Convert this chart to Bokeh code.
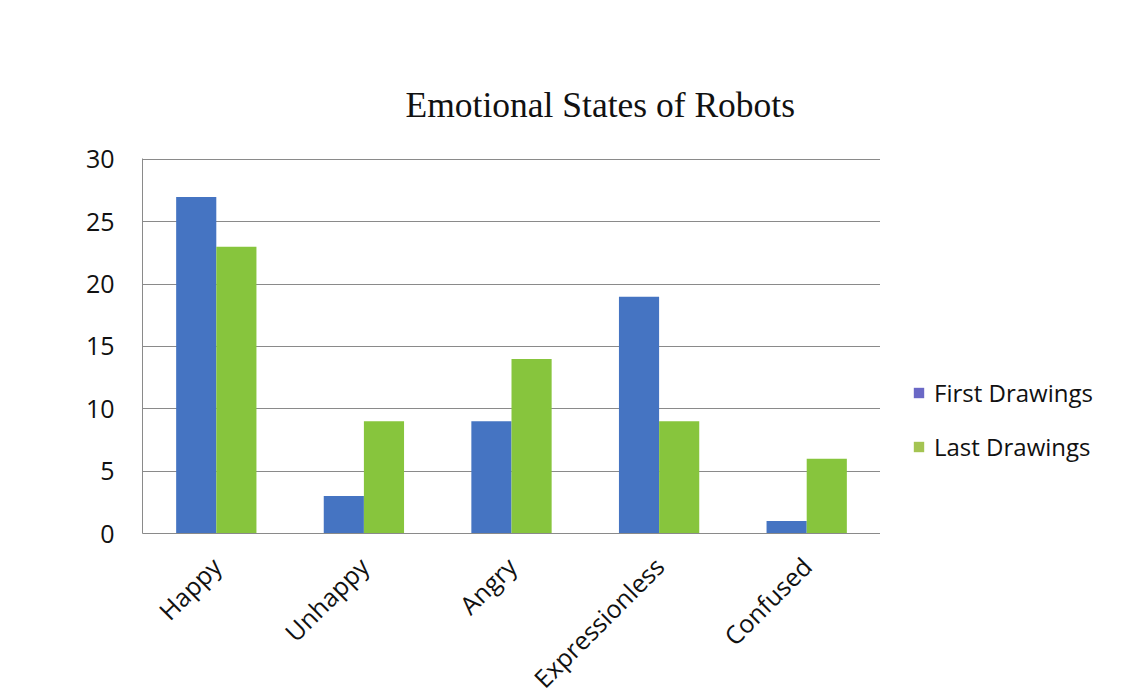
import math
from bokeh.plotting import figure
from bokeh.layouts import row
from bokeh.models import FactorRange, Range1d, Legend, LegendItem, ColumnDataSource
from bokeh.transform import dodge
from bokeh.embed import file_html
from bokeh.resources import INLINE

categories = ["Happy", "Unhappy", "Angry", "Expressionless", "Confused"]
first_drawings = [27, 3, 9, 19, 1]
last_drawings = [23, 9, 14, 9, 6]
y_ticks = [0, 5, 10, 15, 20, 25, 30]
title_text = "Emotional States of Robots"
series_names = ["First Drawings", "Last Drawings"]

BLUE = "#4574c2"
GREEN = "#87c53d"
LEG_BLUE = "#6a68c6"
LEG_GREEN = "#a4c452"
GRID = "#8a8a8a"
TEXT = "#111111"

src = ColumnDataSource(dict(cat=categories, first=first_drawings, last=last_drawings))

p = figure(
    x_range=FactorRange(*categories, range_padding=0),
    y_range=Range1d(0, 30.08),
    frame_width=738, frame_height=375,
    output_backend="svg", toolbar_location=None,
    min_border_left=142, min_border_right=0,
    min_border_top=158, min_border_bottom=130,
)
p.background_fill_color = "white"
p.border_fill_color = "white"
p.outline_line_color = None

p.vbar(x=dodge("cat", -0.136, range=p.x_range), top="first", width=0.272,
       source=src, fill_color=BLUE, line_color=None)
p.vbar(x=dodge("cat", 0.136, range=p.x_range), top="last", width=0.272,
       source=src, fill_color=GREEN, line_color=None)

# title
p.title.text = title_text
p.title.align = "left"
p.title.offset = 263
p.title.standoff = 67
p.title.text_font = "Liberation Serif"
p.title.text_font_size = "35.5px"
p.title.text_font_style = "normal"
p.title.text_color = TEXT

# axes
p.yaxis.ticker = y_ticks
p.yaxis.major_tick_line_color = None
p.yaxis.minor_tick_line_color = None
p.yaxis.axis_line_color = GRID
p.yaxis.major_label_text_font = "Open Sans"
p.yaxis.major_label_text_font_size = "25px"
p.yaxis.major_label_text_color = TEXT
p.yaxis.major_label_standoff = 22

p.xaxis.major_tick_line_color = None
p.xaxis.minor_tick_line_color = None
p.xaxis.axis_line_color = GRID
p.xaxis.major_label_orientation = math.pi / 4
p.xaxis.major_label_text_font = "Open Sans"
p.xaxis.major_label_text_font_size = "25px"
p.xaxis.major_label_text_color = TEXT
p.xaxis.major_label_standoff = 22

p.xgrid.grid_line_color = None
p.ygrid.grid_line_color = GRID
p.ygrid.grid_line_width = 1

# legend figure on the right (swatch renderers hold no drawable value)
leg_fig = figure(
    width=243, height=695,
    x_axis_type=None, y_axis_type=None,
    output_backend="svg", toolbar_location=None,
    min_border=0, min_border_left=0, min_border_right=0,
    min_border_top=0, min_border_bottom=0,
)
leg_fig.outline_line_color = None
leg_fig.background_fill_color = "white"
leg_fig.border_fill_color = "white"
leg_fig.xgrid.grid_line_color = None
leg_fig.ygrid.grid_line_color = None
nan = float("nan")
l1 = leg_fig.vbar(x=[nan], top=[nan], width=1, fill_color=LEG_BLUE, line_color=None)
l2 = leg_fig.vbar(x=[nan], top=[nan], width=1, fill_color=LEG_GREEN, line_color=None)

legend = Legend(
    items=[LegendItem(label=series_names[0], renderers=[l1]),
           LegendItem(label=series_names[1], renderers=[l2])],
    location=(32, 56),
    orientation="vertical",
    border_line_color=None,
    background_fill_alpha=0,
    padding=0, margin=0,
    glyph_width=13, glyph_height=13,
    label_height=24, spacing=21,
    label_standoff=9,
    label_text_font="Open Sans",
    label_text_font_size="24px",
    label_text_color=TEXT,
)
leg_fig.add_layout(legend, "center")

layout = row(p, leg_fig)
open("out.html", "w").write(file_html(layout, INLINE))
